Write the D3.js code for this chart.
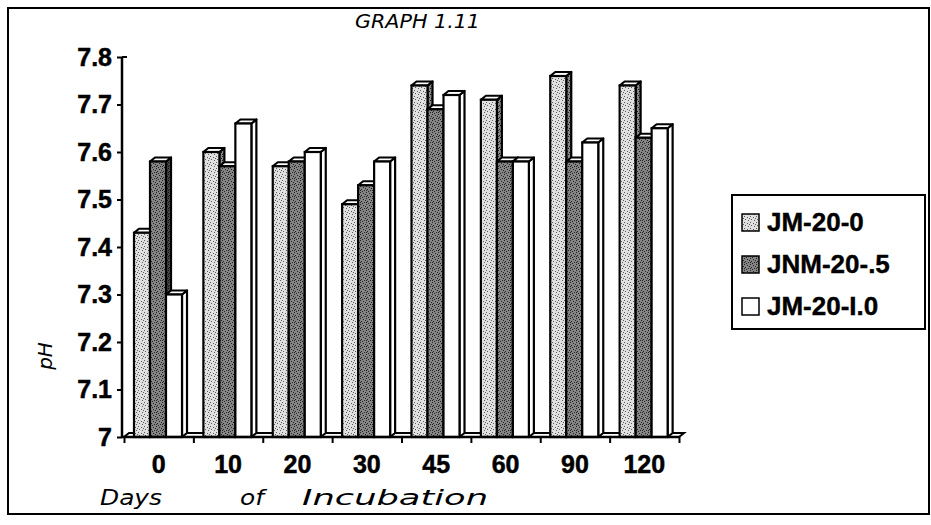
<!DOCTYPE html>
<html>
<head>
<meta charset="utf-8">
<script src="https://cdn.jsdelivr.net/npm/d3@7"></script>
<style>
  html, body { margin: 0; padding: 0; background: #fff; }
  svg { display: block; }
</style>
</head>
<body>
<svg id="chart" width="931" height="525"></svg>
<script>
// ---- data ----
const categories = ["0", "10", "20", "30", "45", "60", "90", "120"];
const seriesNames = ["JM-20-0", "JNM-20-.5", "JM-20-I.0"];
const jm20_0   = [7.43, 7.60, 7.57, 7.49, 7.74, 7.71, 7.76, 7.74];
const jnm20_05 = [7.58, 7.57, 7.58, 7.53, 7.69, 7.58, 7.58, 7.63];
const jm20_10  = [7.30, 7.66, 7.60, 7.58, 7.72, 7.58, 7.62, 7.65];
const yTickValues = [7.0, 7.1, 7.2, 7.3, 7.4, 7.5, 7.6, 7.7, 7.8];
const yTickLabels = ["7", "7.1", "7.2", "7.3", "7.4", "7.5", "7.6", "7.7", "7.8"];
const titleText = "GRAPH 1.11";
const xTitleWords = ["Days", "of", "Incubation"];
const yTitle = "pH";

const seriesValues = [jm20_0, jnm20_05, jm20_10];

const svg = d3.select("#chart");

// ---- patterns (stipple textures) ----
const defs = svg.append("defs");
function stipple(id, base, dot, n) {
  const p = defs.append("pattern").attr("id", id)
    .attr("patternUnits", "userSpaceOnUse").attr("width", 6).attr("height", 6);
  p.append("rect").attr("width", 6).attr("height", 6).attr("fill", base);
  const pts = [[0,0],[3,1],[1,3],[4,4],[5,2],[2,5],[0,4],[4,0],[2,2]];
  pts.slice(0, n).forEach(([a, b]) =>
    p.append("rect").attr("x", a).attr("y", b).attr("width", 1).attr("height", 1).attr("fill", dot));
}
stipple("pLight", "#e0e0e0", "#5a5a5a", 5);
stipple("pDark", "#858585", "#222", 7);
stipple("pLightSide", "#8a8a8a", "#1a1a1a", 7);
stipple("pDarkSide", "#4a4a4a", "#111", 8);

const frontFill = ["url(#pLight)", "url(#pDark)", "#ffffff"];
const sideFill = ["url(#pLightSide)", "url(#pDarkSide)", "#ffffff"];

// ---- outer frame ----
svg.append("rect").attr("x", 8).attr("y", 8).attr("width", 921).attr("height", 506)
  .attr("fill", "none").attr("stroke", "#000").attr("stroke-width", 2);

// ---- scales ----
const x0 = 124, x1 = 679, yBase = 437, yTop = 57;
const x = d3.scaleBand().domain(categories).range([x0, x1]).paddingInner(0).paddingOuter(0);
const xs = d3.scaleBand().domain(seriesNames).range([10, 58]);
const y = d3.scaleLinear().domain([7.0, 7.8]).range([yBase, yTop]);
const dx = 5, dy = 4;

// ---- floor ----
svg.append("path")
  .attr("d", `M${x0},${yBase} L${x1},${yBase} L${x1 + dx},${yBase - dy} L${x0 + dx},${yBase - dy} Z`)
  .attr("fill", "#fff").attr("stroke", "#000").attr("stroke-width", 2);
svg.append("path")
  .attr("d", `M${x0 - 2},${yTop} L${x0 + dx - 2},${yTop}`)
  .attr("fill", "none").attr("stroke", "#000").attr("stroke-width", 2);

// ---- bars ----
const gBars = svg.append("g");
categories.forEach((c, ci) => {
  seriesNames.forEach((s, si) => {
    const v = seriesValues[si][ci];
    const bx = x(c) + xs(s);
    const bw = xs.bandwidth();
    const yt = y(v);
    const g = gBars.append("g");
    g.append("path")
      .attr("d", `M${bx + bw},${yt} L${bx + bw + dx},${yt - dy} L${bx + bw + dx},${yBase - dy} L${bx + bw},${yBase} Z`)
      .attr("fill", sideFill[si]).attr("stroke", "#000").attr("stroke-width", 2.2).attr("stroke-linejoin", "round");
    g.append("path")
      .attr("d", `M${bx},${yt} L${bx + dx},${yt - dy} L${bx + bw + dx},${yt - dy} L${bx + bw},${yt} Z`)
      .attr("fill", "#fff").attr("stroke", "#000").attr("stroke-width", 2.2).attr("stroke-linejoin", "round");
    g.append("rect")
      .attr("x", bx).attr("y", yt).attr("width", bw).attr("height", yBase - yt)
      .attr("fill", frontFill[si]).attr("stroke", "#000").attr("stroke-width", 2.2);
  });
});

// ---- axes ----
const fontAxis = "'Liberation Sans', Arial, sans-serif";
const yAxis = svg.append("g").attr("transform", `translate(${x0 - 2},0)`)
  .call(d3.axisLeft(y).tickValues(yTickValues).tickFormat((d, i) => yTickLabels[i]).tickSize(5).tickPadding(5));
yAxis.select(".domain").attr("stroke", "#000").attr("stroke-width", 2.5).attr("d", `M0,${yTop}V${yBase}`);
yAxis.selectAll(".tick line").attr("stroke", "#000").attr("stroke-width", 2);
yAxis.selectAll(".tick text").attr("font-family", fontAxis).attr("font-size", 25).attr("font-weight", "bold")
  .attr("fill", "#000").attr("stroke", "#000").attr("stroke-width", 0.5);

const xLin = d3.scaleLinear().domain([0, categories.length]).range([x0, x1]);
const xTickAxis = svg.append("g").attr("transform", `translate(0,${yBase})`)
  .call(d3.axisBottom(xLin).tickValues(d3.range(categories.length + 1)).tickFormat("").tickSize(6));
xTickAxis.select(".domain").attr("stroke", "#000").attr("stroke-width", 2.5).attr("d", `M${x0 - 2},0H${x1}`);
xTickAxis.selectAll(".tick line").attr("stroke", "#000").attr("stroke-width", 2);

const xAxis = svg.append("g").attr("transform", `translate(0,${yBase})`)
  .call(d3.axisBottom(x).tickSize(0).tickPadding(18));
xAxis.select(".domain").remove();
xAxis.selectAll(".tick text").attr("font-family", fontAxis).attr("font-size", 25).attr("font-weight", "bold")
  .attr("fill", "#000").attr("stroke", "#000").attr("stroke-width", 0.5);

// ---- handwritten-style titles ----
const fontHand = "'DejaVu Sans', sans-serif";
svg.append("text").attr("x", 355).attr("y", 28)
  .attr("font-family", fontHand).attr("font-size", 20).attr("font-style", "italic").attr("fill", "#000")
  .attr("textLength", 125).attr("lengthAdjust", "spacingAndGlyphs")
  .text(titleText);
const xTitleX = [100, 240, 302];
const xTitleLen = [62, 24, 186];
xTitleWords.forEach((w, i) => {
  svg.append("text").attr("x", xTitleX[i]).attr("y", 505)
    .attr("font-family", fontHand).attr("font-size", 22).attr("font-style", "italic").attr("fill", "#000")
    .attr("textLength", xTitleLen[i]).attr("lengthAdjust", "spacingAndGlyphs")
    .text(w);
});
svg.append("text").attr("transform", "translate(52,356) rotate(-90)").attr("text-anchor", "middle")
  .attr("font-family", fontHand).attr("font-size", 20).attr("font-style", "italic").attr("fill", "#000")
  .text(yTitle);

// ---- legend ----
const lg = svg.append("g");
lg.append("rect").attr("x", 732).attr("y", 195).attr("width", 193).attr("height", 134)
  .attr("fill", "#fff").attr("stroke", "#000").attr("stroke-width", 2);
const legendY = [222, 264, 306];
seriesNames.forEach((s, i) => {
  lg.append("rect").attr("x", 742).attr("y", legendY[i] - 8).attr("width", 17).attr("height", 17)
    .attr("fill", frontFill[i]).attr("stroke", "#000").attr("stroke-width", 1.5);
  lg.append("text").attr("x", 767).attr("y", legendY[i]).attr("dy", "0.36em")
    .attr("font-family", fontAxis).attr("font-size", 26).attr("font-weight", "bold").attr("fill", "#000")
    .attr("stroke", "#000").attr("stroke-width", 0.4)
    .text(s);
});
</script>
</body>
</html>
